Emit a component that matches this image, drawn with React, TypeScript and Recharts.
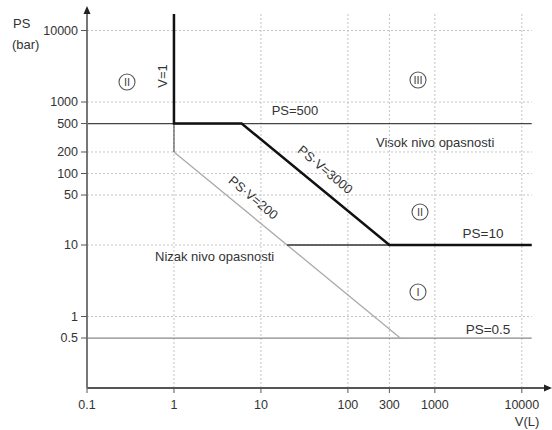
import { ComposedChart, Line, XAxis, YAxis, ReferenceLine, ReferenceDot } from "recharts";

// axis ticks
const xTicks = [0.1, 1, 10, 100, 300, 1000, 10000];
const yTicks = [0.5, 1, 10, 50, 100, 200, 500, 1000, 10000];

// dotted grid positions
const gridV = [1, 10, 100, 300, 1000, 10000];
const gridH = [1, 10, 50, 100, 200, 1000, 10000];

// boundary lines (V in litres, PS in bar)
const highBoundary = [
  { v: 1, ps: 17000 },
  { v: 1, ps: 500 },
  { v: 6, ps: 500 },
  { v: 300, ps: 10 },
  { v: 13000, ps: 10 },
];
const ps500Line = [
  { v: 0.1, ps: 500 },
  { v: 13000, ps: 500 },
];
const ps05Line = [
  { v: 0.1, ps: 0.5 },
  { v: 13000, ps: 0.5 },
];
const v1Lower = [
  { v: 1, ps: 500 },
  { v: 1, ps: 200 },
];
const psv200Line = [
  { v: 1, ps: 200 },
  { v: 400, ps: 0.5 },
];
const ps10Line = [
  { v: 20, ps: 10 },
  { v: 300, ps: 10 },
];

const W = 552;
const H = 430;

const Circled = ({ x, y, label }: { x: number; y: number; label: string }) => (
  <g>
    <circle cx={x} cy={y} r={8} fill="none" stroke="#555" strokeWidth={1.1} />
    <text x={x} y={y + 4} textAnchor="middle" fontSize={11} fill="#444">
      {label}
    </text>
  </g>
);

export default function App() {
  return (
    <div style={{ position: "absolute", left: 0, top: 0, width: W, height: H, background: "#fff", fontFamily: "'Liberation Sans', Arial, sans-serif" }}>
      <ComposedChart width={W} height={H} margin={{ top: 9, right: 4, bottom: 0, left: 0 }}>
        <XAxis
          type="number"
          dataKey="v"
          scale="log"
          domain={[0.1, 20000]}
          allowDataOverflow
          ticks={xTicks}
          tickFormatter={(t: number) => String(t)}
          height={42}
          tickSize={5}
          tickMargin={7}
          tick={{ fontSize: 12.5, fill: "#333" }}
          axisLine={{ stroke: "#555", strokeWidth: 2 }}
          tickLine={{ stroke: "#555" }}
        />
        <YAxis
          type="number"
          dataKey="ps"
          scale="log"
          domain={[0.1, 20000]}
          allowDataOverflow
          ticks={yTicks}
          tickFormatter={(t: number) => String(t)}
          width={87}
          tickSize={6}
          tickMargin={3}
          tick={{ fontSize: 12.5, fill: "#333" }}
          axisLine={{ stroke: "#777", strokeWidth: 2 }}
          tickLine={{ stroke: "#555" }}
        />

        {gridV.map((g) => (
          <ReferenceLine
            key={"gv" + g}
            segment={[{ x: g, y: 0.1 }, { x: g, y: 17000 }]}
            stroke="#c4c4c4"
            strokeDasharray="2 2"
          />
        ))}
        {gridH.map((g) => (
          <ReferenceLine
            key={"gh" + g}
            segment={[{ x: 0.1, y: g }, { x: 13000, y: g }]}
            stroke="#c4c4c4"
            strokeDasharray="2 2"
          />
        ))}

        <Line data={ps05Line} dataKey="ps" type="linear" stroke="#888" strokeWidth={1.2} dot={false} isAnimationActive={false} />
        <Line data={psv200Line} dataKey="ps" type="linear" stroke="#aaa" strokeWidth={1.3} dot={false} isAnimationActive={false} />
        <Line data={v1Lower} dataKey="ps" type="linear" stroke="#555" strokeWidth={1.2} dot={false} isAnimationActive={false} />
        <Line data={ps10Line} dataKey="ps" type="linear" stroke="#333" strokeWidth={1.3} dot={false} isAnimationActive={false} />
        <Line data={ps500Line} dataKey="ps" type="linear" stroke="#444" strokeWidth={1.3} dot={false} isAnimationActive={false} />
        <Line data={highBoundary} dataKey="ps" type="linear" stroke="#111" strokeWidth={2.5} dot={false} isAnimationActive={false} />

        {/* axis arrowheads */}
        <ReferenceDot
          x={20000}
          y={0.1}
          ifOverflow="visible"
          shape={(p: any) => (
            <polygon points={`${p.cx + 4},${p.cy} ${p.cx - 4},${p.cy - 3.5} ${p.cx - 4},${p.cy + 3.5}`} fill="#222" />
          )}
        />
        <ReferenceDot
          x={0.1}
          y={20000}
          ifOverflow="visible"
          shape={(p: any) => (
            <polygon points={`${p.cx},${p.cy - 3} ${p.cx - 3.5},${p.cy + 5} ${p.cx + 3.5},${p.cy + 5}`} fill="#222" />
          )}
        />

        {/* annotations */}
        <text x={13} y={28} fontSize={13} fill="#333">PS</text>
        <text x={12} y={49} fontSize={13} fill="#333">(bar)</text>
        <text x={527} y={426} fontSize={13} fill="#333" textAnchor="middle">V(L)</text>

        <text x={167} y={76} fontSize={13} fill="#333" textAnchor="middle" transform="rotate(-90 167 76)">V=1</text>
        <text x={295} y={115} fontSize={13} fill="#333" textAnchor="middle">PS=500</text>
        <text x={376} y={147} fontSize={13} fill="#333">Visok nivo opasnosti</text>
        <text x={325} y={174} fontSize={13} fill="#333" textAnchor="middle" transform="rotate(40 325 170)">PS·V=3000</text>
        <text x={253} y={202} fontSize={13} fill="#333" textAnchor="middle" transform="rotate(40 253 198)">PS·V=200</text>
        <text x={155} y={261} fontSize={13} fill="#333">Nizak nivo opasnosti</text>
        <text x={483} y={238} fontSize={13.5} fill="#333" textAnchor="middle">PS=10</text>
        <text x={488} y={334} fontSize={13.5} fill="#333" textAnchor="middle">PS=0.5</text>

        <Circled x={127} y={82} label="II" />
        <Circled x={418} y={80} label="III" />
        <Circled x={420} y={212} label="II" />
        <Circled x={418} y={292} label="I" />
      </ComposedChart>
    </div>
  );
}
